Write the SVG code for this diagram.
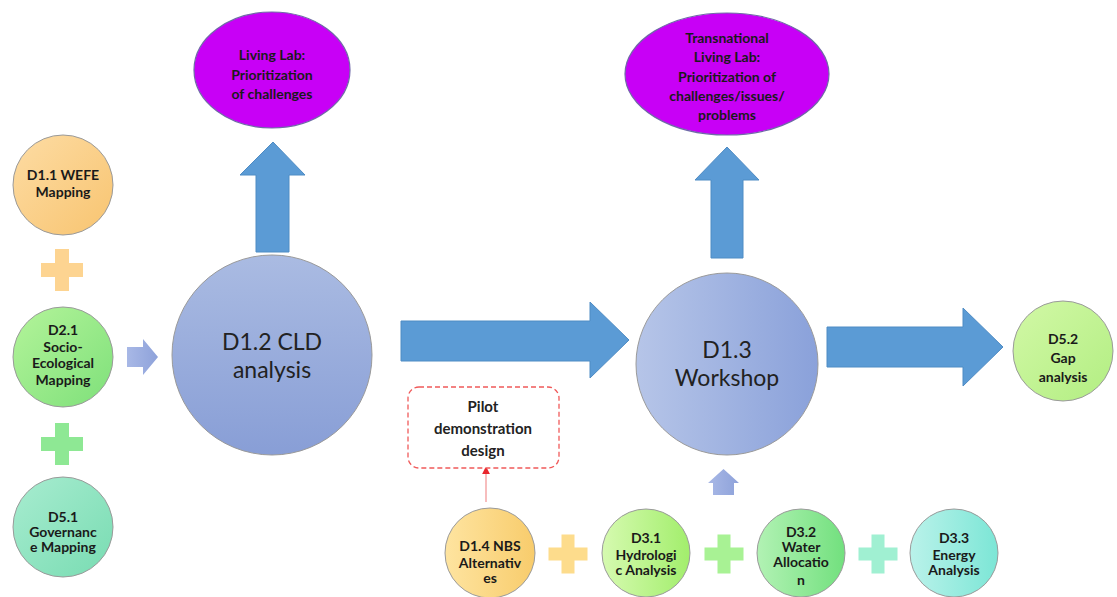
<svg xmlns="http://www.w3.org/2000/svg" width="1117" height="597" viewBox="0 0 1117 597">
  <style>
    .lbl { font-family: Lato, "Open Sans", "Liberation Sans", sans-serif; font-weight: 700; font-size: 14px; fill: #1a1a1a; text-anchor: middle; }
    .big { font-family: Lato, "Open Sans", "Liberation Sans", sans-serif; font-weight: 400; font-size: 23px; fill: #222; text-anchor: middle; }
    .pilot { font-family: Lato, "Open Sans", "Liberation Sans", sans-serif; font-weight: 700; font-size: 15px; fill: #222; text-anchor: middle; }
    .node { stroke: #9a9a9a; stroke-width: 1; }
    .lab { fill: #c800f6; stroke: #6f6aa8; stroke-width: 1.2; }
    .flow { fill: #5b9bd5; stroke: #4f8cc4; stroke-width: 1; }
    .small { fill: url(#gSmall); }
  </style>
  <defs>
    <linearGradient id="gOrange" x1="0" y1="0" x2="1" y2="1">
      <stop offset="0" stop-color="#fddca4"/><stop offset="1" stop-color="#f8c470"/>
    </linearGradient>
    <linearGradient id="gGreen" x1="0" y1="0" x2="1" y2="1">
      <stop offset="0" stop-color="#b4f49a"/><stop offset="1" stop-color="#7ee07a"/>
    </linearGradient>
    <linearGradient id="gTeal" x1="0" y1="0" x2="1" y2="1">
      <stop offset="0" stop-color="#a8ecd0"/><stop offset="1" stop-color="#78dcb2"/>
    </linearGradient>
    <linearGradient id="gCld" x1="0" y1="0" x2="0" y2="1">
      <stop offset="0" stop-color="#aabbe2"/><stop offset="1" stop-color="#889ed6"/>
    </linearGradient>
    <linearGradient id="gWork" x1="0" y1="0" x2="1" y2="0">
      <stop offset="0" stop-color="#b6c5e8"/><stop offset="1" stop-color="#8aa1da"/>
    </linearGradient>
    <linearGradient id="gNbs" x1="0" y1="0" x2="1" y2="0">
      <stop offset="0" stop-color="#fee4a0"/><stop offset="1" stop-color="#f8cc6c"/>
    </linearGradient>
    <linearGradient id="gHyd" x1="0" y1="0" x2="1" y2="0">
      <stop offset="0" stop-color="#d6fab0"/><stop offset="1" stop-color="#a2ee6c"/>
    </linearGradient>
    <linearGradient id="gWat" x1="0" y1="0" x2="1" y2="0">
      <stop offset="0" stop-color="#b2f2b4"/><stop offset="1" stop-color="#72e07e"/>
    </linearGradient>
    <linearGradient id="gEne" x1="0" y1="0" x2="1" y2="0">
      <stop offset="0" stop-color="#baf2ea"/><stop offset="1" stop-color="#7ce6d6"/>
    </linearGradient>
    <linearGradient id="gGap" x1="0" y1="0" x2="1" y2="1">
      <stop offset="0" stop-color="#d2f8a6"/><stop offset="1" stop-color="#b2ee82"/>
    </linearGradient>
    <linearGradient id="gSmall" x1="0" y1="0" x2="1" y2="0">
      <stop offset="0" stop-color="#a8b8e6"/><stop offset="1" stop-color="#8ea2da"/>
    </linearGradient>
    <path id="plusL" d="M-7,-21 H7 V-7 H21 V7 H7 V21 H-7 V7 H-21 V-7 H-7 Z"/>
    <path id="plusB" d="M-6.5,-19.5 H6.5 V-6.5 H19.5 V6.5 H6.5 V19.5 H-6.5 V6.5 H-19.5 V-6.5 H-6.5 Z"/>
    <marker id="redHead" viewBox="0 0 10 10" refX="9" refY="5" markerWidth="6" markerHeight="6" orient="auto">
      <path d="M0,0 L10,5 L0,10 Z" fill="#e8262c"/>
    </marker>
  </defs>

  <rect width="1117" height="597" fill="#ffffff"/>

  <!-- connectors: block arrows, plus signs and the dashed pilot link -->
  <g id="connectors">
    <path class="flow" d="M256,252 V175 H240 L273,142 L305,175 H289 V252 Z"/>
    <path class="flow" d="M711,258 V180 H695 L727,147 L759,180 H743 V258 Z"/>
    <path class="flow" d="M401,321 H590 V302 L629,340 L590,378 V361 H401 Z"/>
    <path class="flow" d="M827,327 H963 V308 L1003,347 L963,386 V367 H827 Z"/>
    <path class="small" d="M127,347 H143 V339 L158,357 L143,375 V367 H127 Z"/>
    <path class="small" d="M713,495 V483 H708 L723.5,469 L739,483 H734 V495 Z"/>
    <use href="#plusL" transform="translate(62,270)" fill="#fdd491"/>
    <use href="#plusL" transform="translate(62,444)" fill="#8ee894"/>
    <use href="#plusB" transform="translate(568,554)" fill="#fddc8c"/>
    <use href="#plusB" transform="translate(724,554)" fill="#a8f294"/>
    <use href="#plusB" transform="translate(878,554)" fill="#a0f0d2"/>
    <line x1="486" y1="502" x2="486" y2="467" stroke="#f39a9a" stroke-width="1.3" marker-end="url(#redHead)"/>
  </g>

  <g id="n-d11">
    <circle class="node" cx="63" cy="185" r="50" fill="url(#gOrange)"/>
    <text class="lbl" x="63" y="180">D1.1 WEFE</text>
    <text class="lbl" x="63" y="197">Mapping</text>
  </g>
  <g id="n-d21">
    <circle class="node" cx="63" cy="357" r="50" fill="url(#gGreen)"/>
    <text class="lbl" x="63" y="335">D2.1</text>
    <text class="lbl" x="63" y="352">Socio-</text>
    <text class="lbl" x="63" y="368">Ecological</text>
    <text class="lbl" x="63" y="385">Mapping</text>
  </g>
  <g id="n-d51">
    <circle class="node" cx="63" cy="527" r="50" fill="url(#gTeal)"/>
    <text class="lbl" x="63" y="522">D5.1</text>
    <text class="lbl" x="63" y="537">Governanc</text>
    <text class="lbl" x="63" y="552">e Mapping</text>
  </g>
  <g id="n-d12">
    <circle class="node" cx="272" cy="355" r="100" fill="url(#gCld)"/>
    <text class="big" x="272" y="350">D1.2 CLD</text>
    <text class="big" x="272" y="378">analysis</text>
  </g>
  <g id="n-lab1">
    <ellipse class="lab" cx="272" cy="70" rx="78" ry="58"/>
    <text class="lbl" x="272" y="60">Living Lab:</text>
    <text class="lbl" x="272" y="80">Prioritization</text>
    <text class="lbl" x="272" y="99">of challenges</text>
  </g>
  <g id="n-lab2">
    <ellipse class="lab" cx="727" cy="74" rx="102" ry="61"/>
    <text class="lbl" x="727" y="43">Transnational</text>
    <text class="lbl" x="727" y="62">Living Lab:</text>
    <text class="lbl" x="727" y="82">Prioritization of</text>
    <text class="lbl" x="727" y="101">challenges/issues/</text>
    <text class="lbl" x="727" y="120">problems</text>
  </g>
  <g id="n-d13">
    <circle class="node" cx="727" cy="364" r="91" fill="url(#gWork)"/>
    <text class="big" x="727" y="358">D1.3</text>
    <text class="big" x="727" y="386">Workshop</text>
  </g>
  <g id="n-d52">
    <circle class="node" cx="1063" cy="351" r="50" fill="url(#gGap)" stroke="#8aa6c8"/>
    <text class="lbl" x="1063" y="344">D5.2</text>
    <text class="lbl" x="1063" y="363">Gap</text>
    <text class="lbl" x="1063" y="382">analysis</text>
  </g>
  <g id="n-pilot">
    <rect x="408" y="387" width="151" height="81" rx="11" fill="#ffffff" stroke="#f05a5a" stroke-width="1.3" stroke-dasharray="5,3"/>
    <text class="pilot" x="483" y="412">Pilot</text>
    <text class="pilot" x="483" y="434">demonstration</text>
    <text class="pilot" x="483" y="456">design</text>
  </g>
  <g id="n-d14">
    <circle class="node" cx="490" cy="553" r="45" fill="url(#gNbs)"/>
    <text class="lbl" x="490" y="551">D1.4 NBS</text>
    <text class="lbl" x="490" y="568">Alternativ</text>
    <text class="lbl" x="490" y="583">es</text>
  </g>
  <g id="n-d31">
    <circle class="node" cx="646" cy="553" r="44" fill="url(#gHyd)"/>
    <text class="lbl" x="646" y="543">D3.1</text>
    <text class="lbl" x="646" y="560">Hydrologi</text>
    <text class="lbl" x="646" y="575">c Analysis</text>
  </g>
  <g id="n-d32">
    <circle class="node" cx="801" cy="553" r="44" fill="url(#gWat)"/>
    <text class="lbl" x="801" y="537">D3.2</text>
    <text class="lbl" x="801" y="552">Water</text>
    <text class="lbl" x="801" y="567">Allocatio</text>
    <text class="lbl" x="801" y="585">n</text>
  </g>
  <g id="n-d33">
    <circle class="node" cx="954" cy="553" r="44" fill="url(#gEne)"/>
    <text class="lbl" x="954" y="543">D3.3</text>
    <text class="lbl" x="954" y="560">Energy</text>
    <text class="lbl" x="954" y="575">Analysis</text>
  </g>
</svg>
